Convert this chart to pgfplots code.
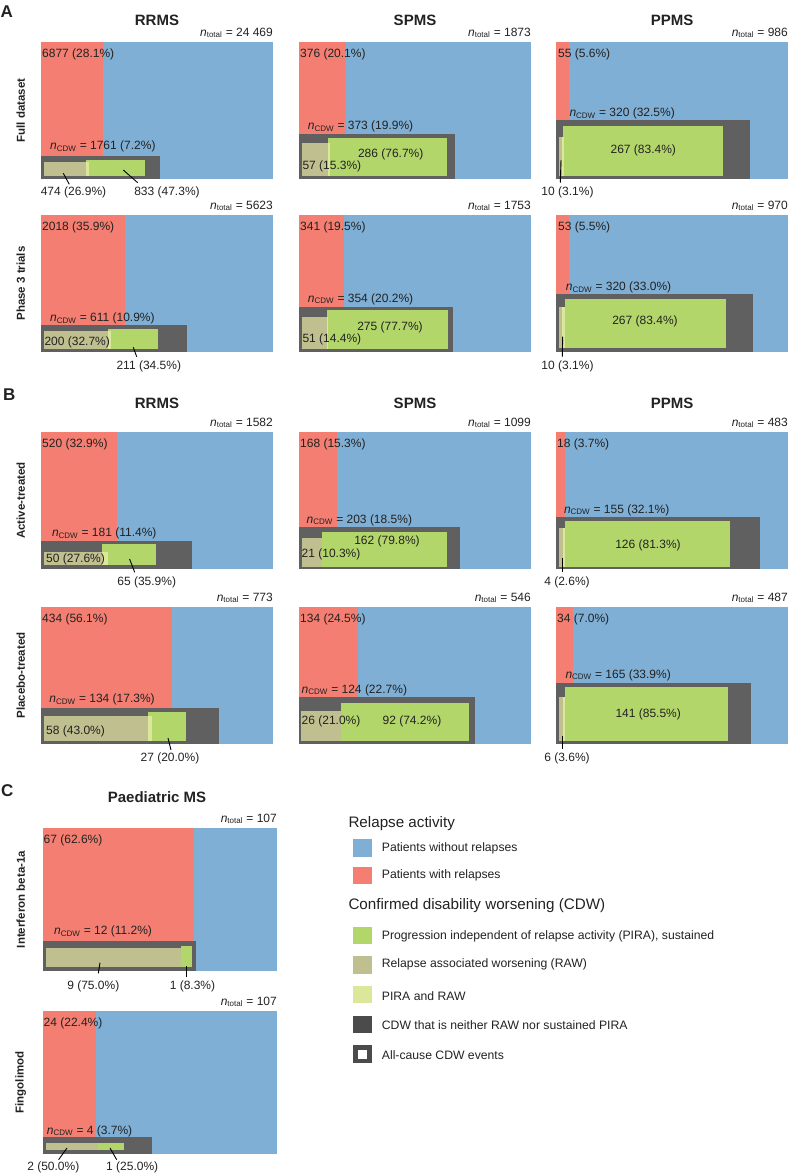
\documentclass[border=0pt]{standalone}
\usepackage{pgfplots}
\pgfplotsset{compat=1.18}
\usepackage{fontspec}
\setmainfont{Liberation Sans}
\definecolor{cblue}{HTML}{7FAFD4}
\definecolor{cred}{HTML}{F37E71}
\definecolor{cdark}{HTML}{606060}
\definecolor{cdarkl}{HTML}{4B4B4B}
\definecolor{cgreen}{HTML}{B3D66B}
\definecolor{ctan}{HTML}{BFBF8F}
\definecolor{cyel}{HTML}{DDE79B}
\definecolor{ctext}{HTML}{222222}
\newcommand{\lbl}{\fontsize{12}{14}\selectfont}
\newcommand{\lgd}{\fontsize{12.2}{14}\selectfont}
\newcommand{\ttl}{\fontsize{15}{18}\selectfont\bfseries}
\newcommand{\rowl}{\fontsize{11.5}{14}\selectfont\bfseries}
\newcommand{\pl}{\fontsize{17}{20}\selectfont\bfseries}
\newcommand{\hdr}{\fontsize{15.2}{18}\selectfont}
% rectangle: colour, x0, y0, x1, y1
\newcommand{\R}[5]{\addplot[fill=#1,draw=none] coordinates {(#2,#3) (#4,#3) (#4,#5) (#2,#5)} --cycle;}
\newcommand{\Ln}[4]{\addplot[black,line width=0.9pt] coordinates {(#1,#2) (#3,#4)};}
\newcommand{\T}[3]{\node[anchor=west,inner sep=0pt,font=\lbl] at (axis cs:#1,#2) {#3};}
\newcommand{\TL}[3]{\node[anchor=west,inner sep=0pt,font=\lgd] at (axis cs:#1,#2) {#3};}
\newcommand{\Tc}[3]{\node[inner sep=0pt,font=\lbl] at (axis cs:#1,#2) {#3};}
\newcommand{\Nt}[3]{\node[anchor=base east,inner sep=0pt,font=\lbl] at (axis cs:#1,#2) {\textit{n}\textsubscript{total} = #3};}
\newcommand{\Nc}[3]{\node[anchor=west,inner sep=0pt,font=\lbl] at (axis cs:#1,#2) {\textit{n}\textsubscript{CDW} = #3};}
\newcommand{\Ti}[3]{\node[inner sep=0pt,font=\ttl] at (axis cs:#1,#2) {#3};}
\newcommand{\Rl}[3]{\node[inner sep=0pt,font=\rowl,rotate=90] at (axis cs:#1,#2) {#3};}
\newcommand{\Pl}[3]{\node[anchor=west,inner sep=0pt,font=\pl] at (axis cs:#1,#2) {#3};}
\pgfplotsset{panel/.style={hide axis, scale only axis, width=232pt, height=137pt,
  xmin=0, xmax=232, ymin=0, ymax=137, clip=false, anchor=south west},
  cpanel/.style={hide axis, scale only axis, width=234pt, height=143pt,
  xmin=0, xmax=234, ymin=0, ymax=143, clip=false, anchor=south west}}
\begin{document}
\begin{tikzpicture}[every node/.append style={text=ctext}]
\useasboundingbox (0,0) rectangle (788pt,-1176pt);
% ================= A row 1 =================
\begin{axis}[panel, at={(41pt,-179pt)}]
\R{cblue}{0}{0}{232}{137}
\R{cred}{0}{0}{61.6}{137}
\R{cdark}{0}{0}{119}{23}
\R{ctan}{2.6}{3}{45}{16.7}
\R{cgreen}{45}{3}{104.3}{19}
\R{cyel}{45}{3}{48}{16.7}
\Ln{22.3}{5.7}{28.3}{-5.3}
\Ln{82.3}{9}{96.7}{-3.7}
\T{1}{125}{6877 (28.1\%)}
\Nt{232}{143}{24~469}
\Nc{9}{32.3}{1761 (7.2\%)}
\Tc{32.5}{-13}{474 (26.9\%)}
\Tc{126}{-13}{833 (47.3\%)}
\Ti{116}{159}{RRMS}
\Rl{-20.3}{68.5}{Full dataset}
\Pl{-40.5}{167}{A}
\end{axis}
\begin{axis}[panel, at={(299pt,-179pt)}]
\R{cblue}{0}{0}{232}{137}
\R{cred}{0}{0}{47}{137}
\R{cdark}{0}{0}{156}{44.7}
\R{ctan}{2.7}{3.3}{29.3}{35.7}
\R{cgreen}{29.3}{3.3}{148.3}{41.3}
\R{cyel}{29.3}{3.3}{30.5}{35.7}
\T{1}{125}{376 (20.1\%)}
\Nt{232}{143}{1873}
\Nc{8.7}{52.3}{373 (19.9\%)}
\Tc{91.7}{25}{286 (76.7\%)}
\T{3.3}{12.3}{57 (15.3\%)}
\Ti{116}{159}{SPMS}
\end{axis}
\begin{axis}[panel, at={(556pt,-179pt)}]
\R{cblue}{0}{0}{232}{137}
\R{cred}{0}{0}{13.3}{137}
\R{cdark}{0}{0}{194}{59}
\R{ctan}{3}{3.3}{6.3}{42.3}
\R{cgreen}{7.3}{3.3}{167.3}{53.3}
\R{cyel}{6.3}{3.3}{8.3}{42.3}
\Ln{5}{19}{4.3}{-3.7}
\T{2}{125}{55 (5.6\%)}
\Nt{232}{143}{986}
\Nc{13.3}{65.7}{320 (32.5\%)}
\Tc{87.3}{28.3}{267 (83.4\%)}
\Tc{11.5}{-13.3}{10 (3.1\%)}
\Ti{116}{159}{PPMS}
\end{axis}
% ================= A row 2 =================
\begin{axis}[panel, at={(41pt,-352pt)}]
\R{cblue}{0}{0}{232}{137}
\R{cred}{0}{0}{84.3}{137}
\R{cdark}{0}{0}{146}{26.7}
\R{ctan}{2.6}{2.7}{66.6}{21.3}
\R{cgreen}{66.6}{2.7}{116.6}{23}
\R{cyel}{66.6}{2.7}{69.6}{21.3}
\Ln{92.3}{4.7}{95.7}{-4.7}
\T{1}{125}{2018 (35.9\%)}
\Nt{232}{143}{5623}
\Nc{9}{33.7}{611 (10.9\%)}
\T{3.3}{9.3}{200 (32.7\%)}
\Tc{107.8}{-14.7}{211 (34.5\%)}
\Rl{-20.3}{68.5}{Phase 3 trials}
\end{axis}
\begin{axis}[panel, at={(299pt,-352pt)}]
\R{cblue}{0}{0}{232}{137}
\R{cred}{0}{0}{45.2}{137}
\R{cdark}{0}{0}{154}{45.5}
\R{ctan}{2.7}{3.3}{28}{35}
\R{cgreen}{28}{3.3}{149}{42}
\R{cyel}{28}{3.3}{29.2}{35}
\T{1}{125}{341 (19.5\%)}
\Nt{232}{143}{1753}
\Nc{8.7}{53}{354 (20.2\%)}
\Tc{91}{25}{275 (77.7\%)}
\T{3.3}{12.3}{51 (14.4\%)}
\end{axis}
\begin{axis}[panel, at={(556pt,-352pt)}]
\R{cblue}{0}{0}{232}{137}
\R{cred}{0}{0}{13.3}{137}
\R{cdark}{0}{0}{196.7}{58}
\R{ctan}{3.3}{3.7}{6}{44.7}
\R{cgreen}{8.7}{3.7}{170}{53.3}
\R{cyel}{6}{3.7}{8.7}{44.7}
\Ln{6.7}{15.3}{6.3}{-4.7}
\T{2}{125}{53 (5.5\%)}
\Nt{232}{143}{970}
\Nc{9.7}{64.7}{320 (33.0\%)}
\Tc{89}{30.3}{267 (83.4\%)}
\Tc{11.5}{-14.7}{10 (3.1\%)}
\end{axis}
% ================= B row 1 =================
\begin{axis}[panel, at={(41pt,-569pt)}]
\R{cblue}{0}{0}{232}{137}
\R{cred}{0}{0}{76}{137}
\R{cdark}{0}{0}{151}{28}
\R{ctan}{3}{4}{61}{16.7}
\R{cgreen}{61}{4}{114.8}{25}
\R{cyel}{61}{4}{67}{16.7}
\Ln{88.6}{10}{93.7}{-3.3}
\T{1}{125}{520 (32.9\%)}
\Nt{232}{143}{1582}
\Nc{10.8}{35.7}{181 (11.4\%)}
\T{5}{9.7}{50 (27.6\%)}
\Tc{105.7}{-13.7}{65 (35.9\%)}
\Ti{116}{165.7}{RRMS}
\Rl{-20.3}{68.5}{Active-treated}
\Pl{-38}{174}{B}
\end{axis}
\begin{axis}[panel, at={(299pt,-569pt)}]
\R{cblue}{0}{0}{232}{137}
\R{cred}{0}{0}{37.7}{137}
\R{cdark}{0}{0}{161}{42.3}
\R{ctan}{2.5}{2.3}{22.6}{30.7}
\R{cgreen}{22.6}{2.3}{148.2}{37.3}
\T{1}{125}{168 (15.3\%)}
\Nt{232}{143}{1099}
\Nc{7.5}{49}{203 (18.5\%)}
\Tc{88}{28}{162 (79.8\%)}
\T{2.5}{15}{21 (10.3\%)}
\Ti{116}{165.7}{SPMS}
\end{axis}
\begin{axis}[panel, at={(556pt,-569pt)}]
\R{cblue}{0}{0}{232}{137}
\R{cred}{0}{0}{8.8}{137}
\R{cdark}{0}{0}{204}{52.3}
\R{ctan}{2.8}{2.3}{7}{40.7}
\R{cgreen}{9.3}{2.3}{174.2}{48.3}
\R{cyel}{7}{2.3}{9.3}{40.7}
\Ln{6.8}{10.7}{6.8}{-2.7}
\T{1}{125}{18 (3.7\%)}
\Nt{232}{143}{483}
\Nc{7.8}{59}{155 (32.1\%)}
\Tc{92}{24}{126 (81.3\%)}
\Tc{11}{-13.7}{4 (2.6\%)}
\Ti{116}{165.7}{PPMS}
\end{axis}
% ================= B row 2 =================
\begin{axis}[panel, at={(41pt,-744pt)}]
\R{cblue}{0}{0}{232}{137}
\R{cred}{0}{0}{131}{137}
\R{cdark}{0}{0}{177.6}{36.3}
\R{ctan}{3}{3}{107}{28}
\R{cgreen}{107}{3}{145}{32.3}
\R{cyel}{107}{3}{111}{28}
\Ln{127}{6}{130}{-6}
\T{1}{125}{434 (56.1\%)}
\Nt{232}{143}{773}
\Nc{8.2}{44.7}{134 (17.3\%)}
\T{5}{13}{58 (43.0\%)}
\Tc{129}{-14}{27 (20.0\%)}
\Rl{-20.3}{68.5}{Placebo-treated}
\end{axis}
\begin{axis}[panel, at={(299pt,-744pt)}]
\R{cblue}{0}{0}{232}{137}
\R{cred}{0}{0}{58.8}{137}
\R{cdark}{0}{0}{176}{46.7}
\R{ctan}{1.5}{3}{41.7}{33}
\R{cgreen}{41.7}{3}{169.8}{41.3}
\T{1}{125}{134 (24.5\%)}
\Nt{232}{143}{546}
\Nc{2.5}{54}{124 (22.7\%)}
\T{2.5}{23}{26 (21.0\%)}
\Tc{113}{23}{92 (74.2\%)}
\end{axis}
\begin{axis}[panel, at={(556pt,-744pt)}]
\R{cblue}{0}{0}{232}{137}
\R{cred}{0}{0}{17}{137}
\R{cdark}{0}{0}{195.3}{60.7}
\R{ctan}{3.3}{3}{7}{47.3}
\R{cgreen}{9.3}{3}{171.6}{56.7}
\R{cyel}{7}{3}{9.3}{47.3}
\Ln{6.5}{8}{6.5}{-5}
\T{1}{125}{34 (7.0\%)}
\Nt{232}{143}{487}
\Nc{9.3}{69}{165 (33.9\%)}
\Tc{92.2}{30}{141 (85.5\%)}
\Tc{11}{-14}{6 (3.6\%)}
\end{axis}
% ================= C =================
\begin{axis}[cpanel, at={(43pt,-971pt)}]
\R{cblue}{0}{0}{234}{143}
\R{cred}{0}{0}{151}{143}
\R{cdark}{0}{0}{153}{30}
\R{ctan}{3}{4.3}{138}{23.3}
\R{cgreen}{138}{4.3}{149.3}{25.3}
\Ln{57}{8.3}{55.3}{-2.3}
\Ln{143.7}{5}{143.7}{-5.7}
\T{0.5}{130.3}{67 (62.6\%)}
\Nt{234}{149}{107}
\Nc{11}{39.3}{12 (11.2\%)}
\Tc{50.3}{-15.7}{9 (75.0\%)}
\Tc{149.5}{-15.7}{1 (8.3\%)}
\Ti{114}{174}{Paediatric MS}
\Rl{-22.3}{71.5}{Interferon beta-1a}
\Pl{-42}{180}{C}
\end{axis}
\begin{axis}[cpanel, at={(43pt,-1154pt)}]
\R{cblue}{0}{0}{234}{143}
\R{cred}{0}{0}{53.3}{143}
\R{cdark}{0}{0}{109}{16.6}
\R{ctan}{3}{4}{55}{10.7}
\R{cgreen}{55}{4}{81.3}{10.7}
\Ln{24}{6}{15.6}{-5.7}
\Ln{67}{6}{73.7}{-5.7}
\T{0.5}{130.3}{24 (22.4\%)}
\Nt{234}{149}{107}
\Nc{3.7}{23}{4 (3.7\%)}
\Tc{10.3}{-13.3}{2 (50.0\%)}
\Tc{89.2}{-13.3}{1 (25.0\%)}
\Rl{-22.3}{71.5}{Fingolimod}
\end{axis}
% ================= Legend =================
\begin{axis}[hide axis, scale only axis, width=788pt, height=1176pt,
  xmin=0, xmax=788, ymin=0, ymax=1176, y dir=reverse, clip=false,
  anchor=south west, at={(0pt,-1176pt)}]
\R{cblue}{353}{839.3}{372}{857}
\R{cred}{353}{866.7}{372}{884.3}
\R{cgreen}{353}{926.7}{372}{944.3}
\R{ctan}{353}{956}{372}{974}
\R{cyel}{353}{985.7}{372}{1003.3}
\R{cdarkl}{353}{1015.7}{372}{1033.3}
\R{cdarkl}{353}{1045.3}{372}{1063.3}
\R{white}{357.7}{1050}{367.3}{1058.7}
\node[anchor=west,inner sep=0pt,font=\hdr] at (axis cs:348.3,824) {Relapse activity};
\node[anchor=west,inner sep=0pt,font=\hdr] at (axis cs:348.3,906) {Confirmed disability worsening (CDW)};
\TL{381.7}{848.3}{Patients without relapses}
\TL{381.7}{875.7}{Patients with relapses}
\TL{381.7}{936.7}{Progression independent of relapse activity (PIRA), sustained}
\TL{381.7}{964.7}{Relapse associated worsening (RAW)}
\TL{381.7}{996}{PIRA and RAW}
\TL{381.7}{1025.3}{CDW that is neither RAW nor sustained PIRA}
\TL{381.7}{1055.3}{All-cause CDW events}
\end{axis}
\end{tikzpicture}
\end{document}
